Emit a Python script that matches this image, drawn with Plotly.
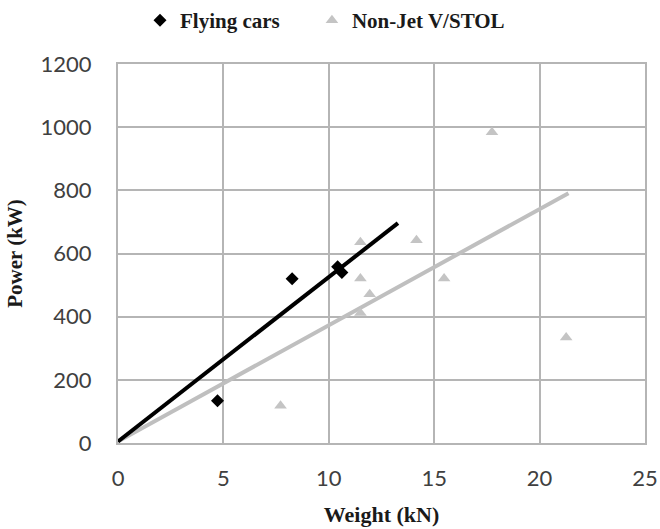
import plotly.graph_objects as go

# Flying cars: weight (kN) vs installed power (kW)
car_weight = [4.72, 8.26, 10.42, 10.62]
car_power = [134, 520, 558, 540]

# Non-jet V/STOL aircraft
vstol_weight = [7.71, 11.5, 11.5, 11.5, 11.94, 14.16, 15.47, 17.74, 21.26]
vstol_power = [118, 412, 521, 636, 471, 642, 521, 984, 334]

# Linear trend lines (end points)
car_trend_x = [0.0, 13.28]
car_trend_y = [5, 696]
vstol_trend_x = [0.0, 21.37]
vstol_trend_y = [5, 791]

x_ticks = [0, 5, 10, 15, 20, 25]
y_ticks = [0, 200, 400, 600, 800, 1000, 1200]

SERIF = "'Liberation Serif', 'Times New Roman', serif"
TICK_FONT = dict(family="Lato, 'Open Sans', sans-serif", size=22, color="#404040")
TITLE_FONT = dict(family=SERIF, size=21, color="#1a1a1a")
LEGEND_FONT = dict(family=SERIF, size=21, color="#1a1a1a")
GRID = "#b5b5b5"

fig = go.Figure()

fig.add_trace(go.Scatter(
    x=vstol_trend_x, y=vstol_trend_y, mode="lines",
    line=dict(color="#bfbfbf", width=4), showlegend=False, hoverinfo="skip",
))
fig.add_trace(go.Scatter(
    x=car_trend_x, y=car_trend_y, mode="lines",
    line=dict(color="#000000", width=4), showlegend=False, hoverinfo="skip",
))
fig.add_trace(go.Scatter(
    x=car_weight, y=car_power, mode="markers", name="<b>Flying cars</b>",
    marker=dict(symbol="diamond", size=10, color="#000000"),
    legend="legend",
))
fig.add_trace(go.Scatter(
    x=vstol_weight, y=vstol_power, mode="markers", name="<b>Non-Jet V/STOL</b>",
    marker=dict(symbol="triangle-up", size=11, color="#c4c4c4"),
    legend="legend2",
))

legend_common = dict(
    orientation="h", xref="paper", xanchor="left",
    y=1.0, yref="container", yanchor="top",
    font=LEGEND_FONT, itemwidth=30, bgcolor="rgba(0,0,0,0)",
)

fig.update_layout(
    width=660, height=529,
    margin=dict(l=118, r=15, t=64, b=86, autoexpand=False),
    paper_bgcolor="white", plot_bgcolor="white",
    showlegend=True,
    legend=dict(legend_common, x=0.0417),
    legend2=dict(legend_common, x=0.368),
    xaxis=dict(
        range=[0, 25], tickvals=x_ticks, tickfont=TICK_FONT,
        showgrid=True, gridcolor=GRID, gridwidth=2,
        showline=True, linecolor=GRID, linewidth=2, mirror=True,
        zeroline=False, ticks="", ticklabelstandoff=15, automargin=False,
        title=dict(text="<b>Weight (kN)</b>", font=dict(TITLE_FONT, size=22), standoff=16),
    ),
    yaxis=dict(
        range=[0, 1200], tickvals=y_ticks, tickfont=TICK_FONT,
        showgrid=True, gridcolor=GRID, gridwidth=2,
        showline=True, linecolor=GRID, linewidth=2, mirror=True,
        zeroline=False, ticks="", ticklabelstandoff=20, automargin=False,
        title=dict(text="<b>Power (kW)</b>", font=TITLE_FONT, standoff=12),
    ),
)

fig.write_html("out.html")
